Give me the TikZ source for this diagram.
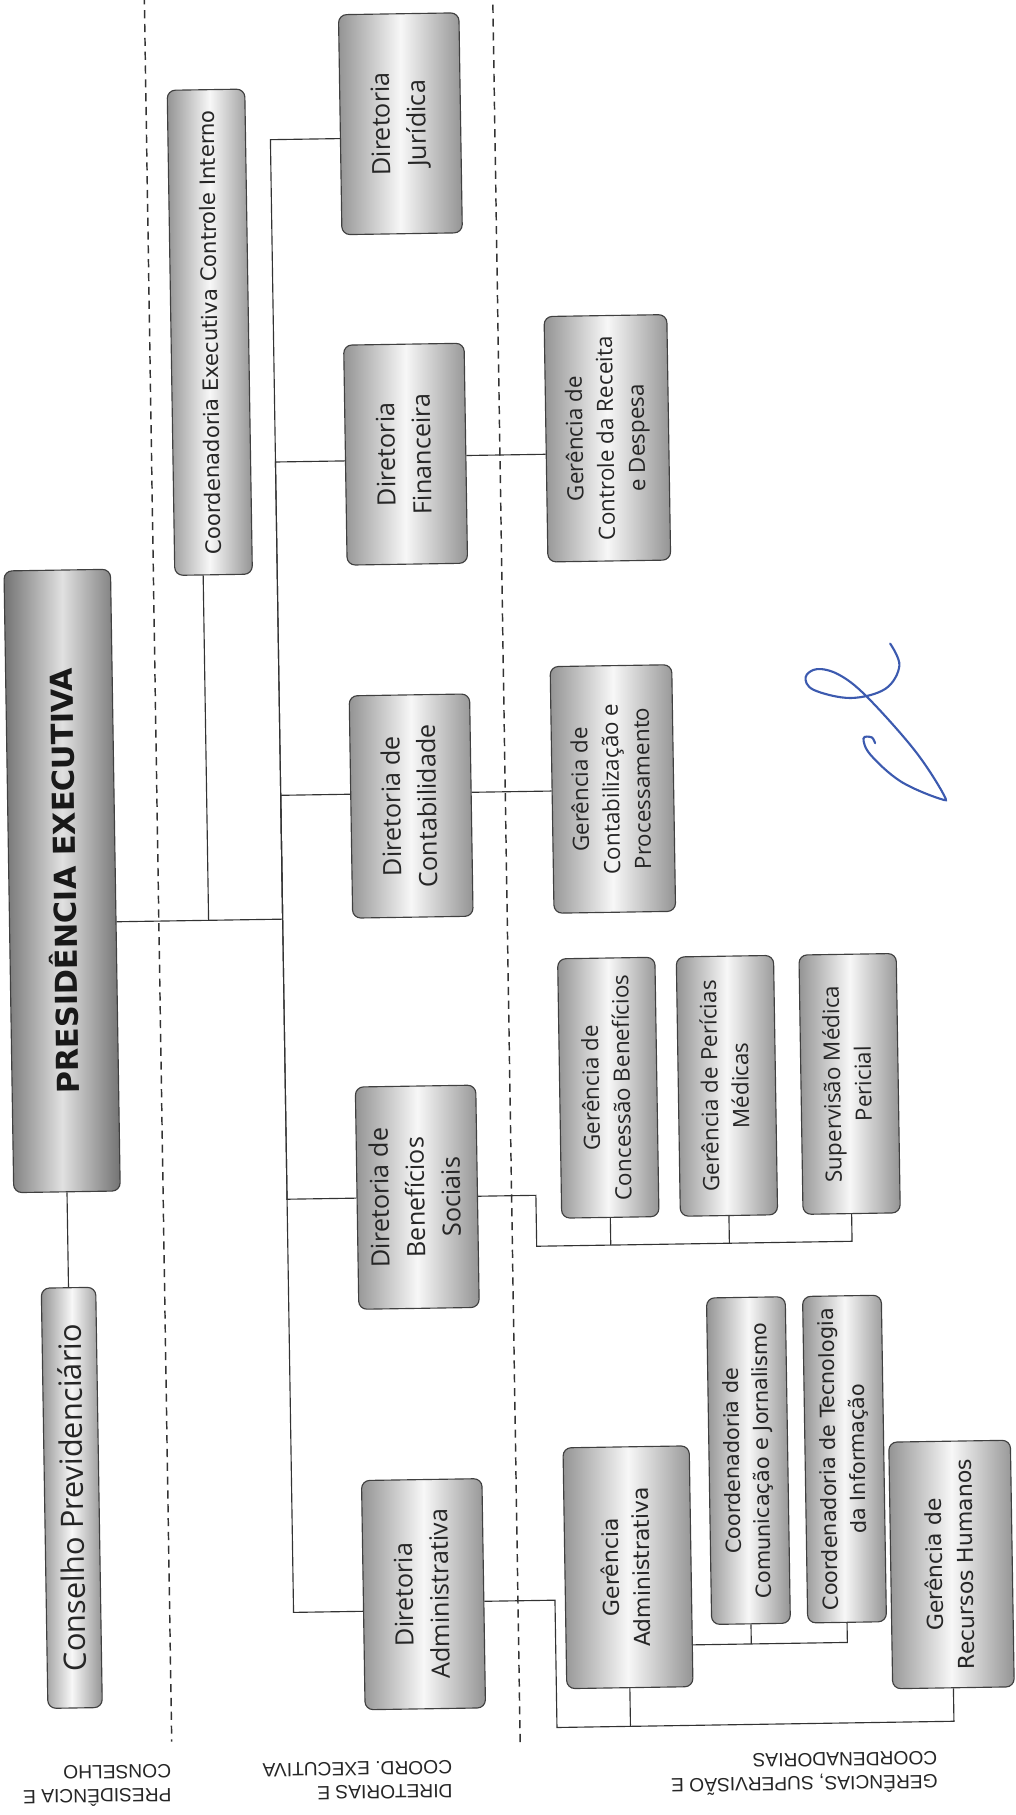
\documentclass[tikz,border=0pt]{standalone}
\usepackage{fontspec}
\setmainfont{Open Sans}
\newfontfamily\verdfont{DejaVu Sans}
\newfontfamily\labfont{Liberation Sans}
\usepackage{graphicx}
\usetikzlibrary{calc}
\newcommand{\vtext}[1]{\rotatebox{90}{\begin{tabular}{@{}c@{}}#1\end{tabular}}}
\definecolor{ink}{RGB}{60,90,175}

\begin{document}
\begin{tikzpicture}[
    x=0.025cm, y=-0.025cm,
    box/.style={draw=black!75, line width=0.7pt, rounded corners=5pt, inner sep=0pt,
        left color=black!42, right color=black!42, middle color=black!3, text=black!85},
    dirbox/.style={box, minimum width=2.6cm, minimum height=4.8cm, font=\fontsize{15.5}{22}\selectfont},
    gerbox/.style={box, font=\fontsize{13.8}{19}\selectfont},
    vbox/.style={box, font=\verdfont\fontsize{13.5}{19}\selectfont},
    tier/.style={rotate=180, align=left, inner sep=0pt, text=black!85, font=\labfont\fontsize{11.8}{14.5}\selectfont},
    line/.style={draw=black!80, line width=0.7pt},
    sep/.style={draw=black!80, line width=0.9pt, dash pattern=on 5pt off 3.5pt}
]
\useasboundingbox (0,0) rectangle (877,1568);

\begin{scope}[rotate around={0.9:(440,780)}, transform shape]
\node[box, minimum width=2.3cm, minimum height=13.425cm, left color=black!55, right color=black!55, middle color=black!12,
    text=black!90, font=\verdfont\bfseries\fontsize{18.6}{22}\selectfont] (pres) at (54,755) {\rotatebox{90}{PRESIDÊNCIA EXECUTIVA}};
\node[box, minimum width=1.175cm, minimum height=9.075cm, font=\fontsize{19}{22}\selectfont] (cons) at (54,1288) {\rotatebox{90}{Conselho Previdenciário}};
\node[box, minimum width=1.675cm, minimum height=10.475cm, font=\verdfont\fontsize{13}{16}\selectfont] (coord) at (189,283) {\rotatebox{90}{Coordenadoria Executiva Controle Interno}};

\node[dirbox, minimum height=4.75cm] (jur) at (356.5,105.5) {\vtext{Diretoria\\Jurídica}};
\node[dirbox, minimum height=4.75cm] (fin) at (356.5,391) {\vtext{Diretoria\\Financeira}};
\node[dirbox] (cont) at (356.5,695) {\vtext{Diretoria de\\Contabilidade}};
\node[dirbox] (ben) at (356.5,1033) {\vtext{Diretoria de\\Benefícios\\Sociais}};
\node[dirbox, minimum height=4.95cm] (adm) at (356.5,1376) {\vtext{Diretoria\\Administrativa}};

\node[gerbox, minimum width=2.65cm, minimum height=5.3cm] (rec) at (531,380) {\vtext{Gerência de\\Controle da Receita\\e Despesa}};
\node[gerbox, minimum width=2.625cm, minimum height=5.325cm] (proc) at (531,683) {\vtext{Gerência de\\Contabilização e\\Processamento}};
\node[gerbox, minimum width=2.1cm, minimum height=5.6cm] (conc) at (523,941) {\vtext{Gerência de\\Concessão Benefícios}};
\node[gerbox, minimum width=2.1cm, minimum height=5.6cm] (peri) at (625.5,941) {\vtext{Gerência de Perícias\\Médicas}};
\node[gerbox, minimum width=2.1cm, minimum height=5.6cm] (sup) at (731.5,941) {\vtext{Supervisão Médica\\Pericial}};
\node[vbox, minimum width=2.725cm, minimum height=5.2cm] (gadm) at (533.5,1355.5) {\vtext{Gerência\\Administrativa}};
\node[vbox, minimum width=1.7cm, minimum height=7.05cm, font=\verdfont\fontsize{12.8}{18}\selectfont] (com) at (639,1265) {\vtext{Coordenadoria de\\Comunicação e Jornalismo}};
\node[vbox, minimum width=1.7cm, minimum height=7.05cm, font=\verdfont\fontsize{12.8}{18}\selectfont] (tec) at (722,1265) {\vtext{Coordenadoria de Tecnologia\\da Informação}};
\node[vbox, minimum width=2.625cm, minimum height=5.325cm] (rh) at (813,1357.5) {\vtext{Gerência de\\Recursos Humanos}};

\draw[sep] (137,-20) -- (137,1500);
\draw[sep] (438,-20) -- (438,1505);

\coordinate (pj) at (244,791);
\coordinate (cj) at (180,791);
\draw[line] (pres) -- (cons);
\draw[line] (pres.east |- pj) -- (pj);
\draw[line] (coord.south -| cj) -- (cj);
\draw[line] ($(jur.west)+(0,12)$) -| (pj);
\draw[line] ($(fin.west)+(0,5)$) -| (pj);
\draw[line] ($(cont.west)+(0,-11)$) -| (pj);
\draw[line] (ben.west) -| (pj);
\draw[line] ($(adm.west)+(0,14)$) -| (pj);

\coordinate (f1) at ($(fin.east)+(0,2)$);
\draw[line] (f1) -- (f1 -| rec.west);
\coordinate (c1) at ($(cont.east)+(0,-11)$);
\draw[line] (c1) -- (c1 -| proc.west);
\coordinate (bb) at (459,1077);
\draw[line] (ben.east) -| (bb) -| (sup.south);
\draw[line] (conc.south) -- (conc.south |- bb);
\draw[line] (peri.south) -- (peri.south |- bb);
\coordinate (ab) at (470,1493);
\draw[line] ($(adm.east)+(0,7)$) -| (ab) -| (rh.south);
\draw[line] (gadm.south) -- (gadm.south |- ab);
\coordinate (g1) at ($(gadm.east)+(0,68)$);
\draw[line] (g1) -| (tec.south);
\draw[line] (com.south) -- (com.south |- g1);

\node[tier] (t1) at (72,1537) {PRESIDÊNCIA E\\CONSELHO};
\node[tier] (t2) at (297,1536) {DIRETORIAS E\\COORD. EXECUTIVA};
\node[tier] (t3) at (683,1536) {GERÊNCIAS, SUPERVISÃO E\\COORDENADORIAS};
\end{scope}

\draw[ink, line width=1.3pt, line cap=round] plot[smooth, tension=0.6] coordinates {(769,556) (777,575) (765,595) (735,603) (703,596) (696,585) (706,578) (725,583) (749,602) (790,648) (815,686) (812,690) (778,675) (752,652) (746,638) (753,637) (756,642)};
\end{tikzpicture}
\end{document}
